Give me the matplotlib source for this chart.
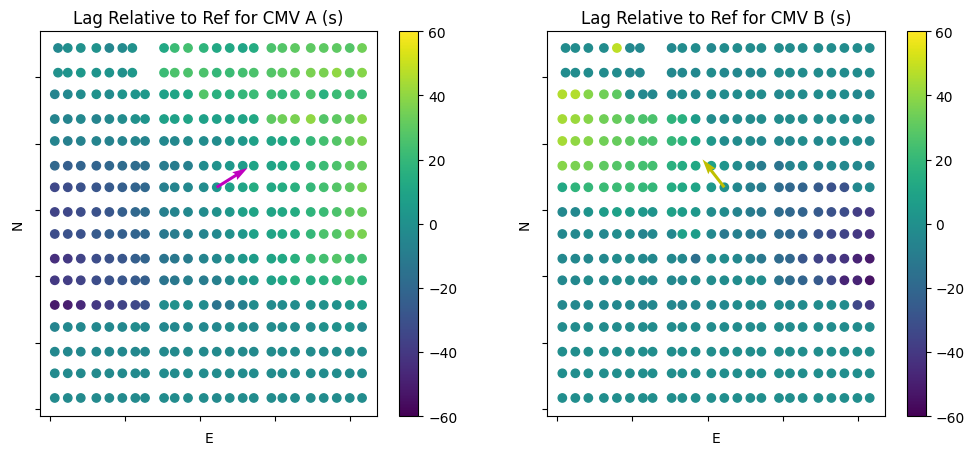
import numpy as np
import matplotlib
matplotlib.use("Agg")
import matplotlib.pyplot as plt

# sensor E positions (full rows) and the shorter first group in the two top rows
e_full = [0.67, 2.40, 4.13, 6.20, 7.93, 9.66, 11.39, 12.68,
          15.21, 16.63, 18.40, 20.49, 22.22, 23.95, 25.68, 27.15,
          29.49, 30.95, 32.64, 34.73, 36.46, 38.19, 39.92, 41.56]
e_top_g1 = [1.10, 2.40, 4.13, 6.20, 7.93, 9.66, 10.99]

# N positions, top row first
n_rows = [54.42, 50.70, 47.44, 43.71, 40.40, 36.67, 33.42, 29.70,
          26.38, 22.66, 19.40, 15.68, 12.36, 8.64, 5.38, 1.66]

# lag values (s), rows top to bottom; top two rows have 7 + 16 points
lag_a = [
    [-4, -1, 0, 1, -5, -3, 0, 12, 22, 24, 18, 12, 12, 10, 14, 26, 28, 30, 30, 30, 30, 28, 34],
    [0, 2, 4, 2, 2, 0, 4, 22, 26, 26, 26, 20, 22, 24, 26, 28, 30, 32, 36, 36, 40, 32, 38],
    [-6, -4, -2, 0, -2, 2, 2, 4, 8, 10, 12, 28, 16, 16, 20, 22, 22, 20, 24, 26, 16, 22, 24, 22],
    [-6, -6, -4, -6, -4, -2, 0, 2, 8, 8, 10, 8, 8, 8, 10, 12, 30, 34, 36, 40, 28, 30, 32, 38],
    [-6, -8, -7, -6, -7, -6, -5, -6, -4, -4, -2, -2, -2, 2, 4, 8, 10, 12, 16, 20, 24, 28, 32, 36],
    [-20, -24, -22, -22, -20, -18, -18, -16, -10, -10, -8, -2, 0, 4, 6, 10, 10, 12, 14, 20, 22, 26, 30, 32],
    [-34, -32, -30, -28, -26, -24, -22, -20, -8, -6, -4, -2, 2, 8, 10, 14, 12, 14, 16, 20, 24, 28, 30, 36],
    [-36, -34, -32, -30, -28, -24, -20, -18, -8, -6, -4, -2, 0, 4, 8, 10, 10, 12, 14, 18, 22, 26, 30, 32],
    [-32, -30, -30, -26, -24, -24, -22, -20, -12, -10, -8, -6, -4, 0, 4, 8, 10, 12, 14, 20, 26, 28, 34, 36],
    [-44, -40, -36, -32, -30, -28, -24, -22, -14, -12, -10, -6, -4, 0, 4, 6, 10, 12, 16, 22, 24, 28, 22, 24],
    [-40, -38, -36, -32, -30, -28, -26, -24, -14, -12, -8, -10, -8, -4, 2, 4, 8, 12, 16, 14, 16, 20, 22, 18],
    [-52, -50, -46, -40, -38, -36, -34, -30, -2, 0, -2, -2, -14, -12, -8, -2, -2, -2, -2, 0, 0, 0, 4, 6],
    [-6, -4, -4, -4, -4, -4, -2, -4, -4, -4, -4, -4, -4, -2, -2, -4, -2, -2, -2, -2, 0, 0, 2, -4],
    [-4, -4, -4, -4, -4, -4, -4, -4, -3, -3, -3, -3, -3, -3, -3, -3, -2, -2, -2, -2, -2, -2, -2, -2],
    [-3, -3, -3, -3, -3, -3, -3, -3, -2, -2, -2, -2, -2, -2, -2, -2, -2, -2, -2, -2, -2, -2, -2, -2],
    [-3, -3, -3, -3, -3, -3, -3, -3, -2, -2, -2, -2, -3, -2, -2, -2, -2, -2, -2, -2, -2, -2, -2, -2],
]

lag_b = [
    [-2, -2, -2, -2, 48, -4, -4, -4, -2, -2, -4, -2, -2, -2, -2, -2, -2, -2, -2, -2, -2, -2, -2],
    [-2, -2, -2, -2, -2, -4, -4, -4, -4, -4, -2, -4, -4, -4, -4, -2, -2, -2, -2, -2, -2, -2, -2],
    [46, 46, 38, 34, 30, -2, -4, -4, -4, -2, -4, -2, -2, -2, -2, -2, -4, -2, -2, -2, -2, -2, -4, -4],
    [44, 42, 38, 34, 32, 28, 26, 26, 18, 16, 6, -2, -2, -2, -2, -2, -2, -2, -2, -2, -2, -2, -2, -4],
    [44, 40, 38, 34, 32, 30, 26, 26, 20, 18, 12, 4, -2, -2, -2, -4, -4, -4, -2, -4, -2, -2, -2, -4],
    [38, 36, 34, 30, 28, 26, 24, 24, 16, 14, 12, 8, 2, -2, -6, -10, -14, -6, -4, -6, -4, -4, -4, -6],
    [12, 18, 20, 22, 22, 22, 20, 20, 14, 12, 10, 4, 0, -4, -8, -10, -18, -20, -22, -26, -30, -30, -4, -4],
    [-4, -4, 2, 6, 8, 6, 4, 2, 8, 6, 4, -2, -2, -6, -10, -12, -18, -20, -22, -26, -30, -32, -38, -40],
    [-4, -4, -2, -4, -2, -2, -6, -4, -4, 8, 6, -4, -12, -8, -12, -14, -18, -20, -22, -30, -34, -36, -40, -44],
    [-4, -4, -4, -4, -2, -2, -4, -4, -4, -4, -16, -2, -2, -4, -8, -12, -18, -20, -28, -36, -38, -42, -48, -52],
    [-4, -4, -2, -4, -2, -2, -4, -4, -4, -4, -2, -2, -2, -2, -2, -2, -14, -18, -22, -26, -34, -48, -48, -54],
    [-4, -4, -4, -4, -4, -4, -6, -4, -4, -6, -4, -4, -4, -2, -2, -2, -2, -4, -2, -2, -2, -2, -34, -40],
    [-2, -2, -2, -2, -2, -2, -2, -2, -2, -2, -2, -2, -2, -2, -2, -2, -2, -2, -2, -2, -2, -2, -2, -2],
    [-1, -1, -1, -1, -1, -1, -1, -1, -1, -1, -1, -1, -1, -1, -1, -1, -1, -1, -1, -1, -1, -1, -1, -1],
    [-1, -1, -1, -1, -1, -1, -1, -1, -1, -1, -1, -1, -1, -1, -1, -1, -1, -1, -1, -1, -1, -1, -1, -1],
    [-1, -1, -1, -1, -1, -1, -1, -1, -1, -1, -1, -1, -1, -1, -1, -1, -1, -1, -1, -1, -1, -1, -1, -1],
]

# arrows: tail (E, N) and vector (dE, dN)
arrow_a = (22.22, 33.42, 4.1, 2.9)
arrow_b = (22.22, 33.42, -2.9, 4.2)


def sensor_positions():
    es, ns = [], []
    for i, n in enumerate(n_rows):
        row = (e_top_g1 + e_full[8:]) if i < 2 else e_full
        es += row
        ns += [n] * len(row)
    return np.array(es), np.array(ns)


def draw_panel(fig, ax_rect, cax_rect, lag, arrow, color, title):
    ax = fig.add_axes(ax_rect)
    cax = fig.add_axes(cax_rect)
    e, n = sensor_positions()
    vals = np.concatenate([np.array(r, dtype=float) for r in lag])
    sc = ax.scatter(e, n, c=vals, cmap='viridis', vmin=-60, vmax=60)
    ax.quiver(arrow[0], arrow[1], arrow[2], arrow[3], angles='xy',
              scale_units='xy', scale=1, color=color, width=0.009, zorder=3)
    ax.set_xlim(-1.33, 43.59)
    ax.set_ylim(-1.06, 56.93)
    ax.set_xticks([0, 10, 20, 30, 40])
    ax.set_yticks([0, 10, 20, 30, 40, 50])
    ax.set_xticklabels([])
    ax.set_yticklabels([])
    ax.set_xlabel('E')
    ax.set_ylabel('N')
    ax.set_title(title)
    fig.colorbar(sc, cax=cax)
    return ax


fig = plt.figure(figsize=(9.74, 4.56), dpi=100)
draw_panel(fig, [0.0408, 0.0855, 0.3466, 0.8436], [0.41, 0.0855, 0.0195, 0.8436],
           lag_a, arrow_a, 'm', 'Lag Relative to Ref for CMV A (s)')
draw_panel(fig, [0.5619, 0.0855, 0.3467, 0.8436], [0.9309, 0.0855, 0.0195, 0.8436],
           lag_b, arrow_b, 'y', 'Lag Relative to Ref for CMV B (s)')
fig.savefig('out.png', dpi=100)
